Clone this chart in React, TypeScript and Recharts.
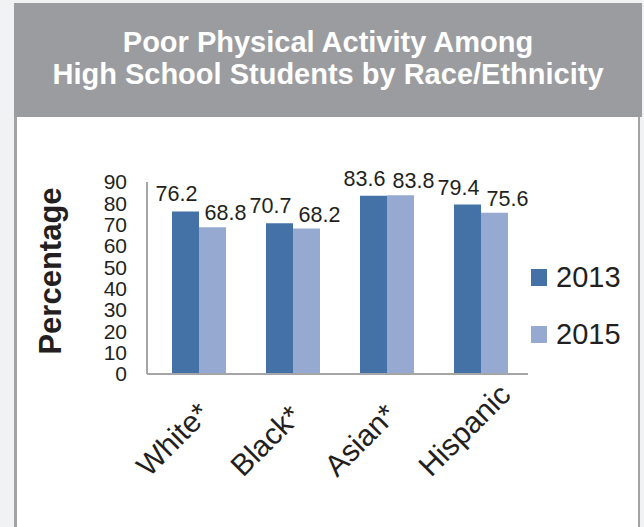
import React from 'react';
import { BarChart, Bar, XAxis, YAxis, LabelList, Legend, Label } from 'recharts';

const groups = ['White*', 'Black*', 'Asian*', 'Hispanic'];
const values2013 = [76.2, 70.7, 83.6, 79.4];
const values2015 = [68.8, 68.2, 83.8, 75.6];
const yTicks = [0, 10, 20, 30, 40, 50, 60, 70, 80, 90];
const seriesNames = ['2013', '2015'];
const seriesColors = ['#4572a6', '#95a9d1'];

const data = groups.map((g, i) => ({ group: g, s2013: values2013[i], s2015: values2015[i] }));

const FONT = '"Liberation Sans", Arial, Helvetica, sans-serif';
const INK = '#231f20';

// value labels sit a little off-centre like the original
const valueLabel = (dx: number, gap: number) => (props: any) => {
  const { x, y, width, value } = props;
  return (
    <text x={x + width / 2 + dx} y={y - gap} textAnchor="middle" fontSize={21.5} fill={INK} fontFamily={FONT}>
      {value}
    </text>
  );
};

const GroupTick = (props: any) => {
  const { x, y, payload } = props;
  const ax = x - 50;
  const ay = y + 96;
  return (
    <text x={ax} y={ay} transform={`rotate(-45 ${ax} ${ay})`} textAnchor="start" fontSize={30} fill={INK} fontFamily={FONT}>
      {payload.value}
    </text>
  );
};

const YTitle = (props: any) => {
  const { viewBox } = props;
  const cx = viewBox.x - 37;
  const cy = viewBox.y + viewBox.height / 2 - 7;
  return (
    <text x={cx} y={cy} transform={`rotate(-90 ${cx} ${cy})`} dy="0.36em" textAnchor="middle" fontSize={31} fontWeight="bold" fill={INK} fontFamily={FONT}>
      Percentage
    </text>
  );
};

const renderLegend = () => (
  <div style={{ fontFamily: FONT }}>
    {seriesNames.map((name, i) => (
      <div key={name} style={{ height: 57, display: 'flex', alignItems: 'center' }}>
        <span style={{ width: 16, height: 17, background: seriesColors[i], marginRight: 9, display: 'inline-block' }} />
        <span style={{ fontSize: 29, color: INK }}>{name}</span>
      </div>
    ))}
  </div>
);

export default function App() {
  return (
    <div style={{ position: 'fixed', left: 0, top: 0, width: 644, height: 527, background: '#f1f2f4', overflow: 'hidden' }}>
      <div
        style={{
          position: 'absolute', left: 14, top: 3, width: 628, height: 114, background: '#9b9c9f',
          color: '#fff', fontFamily: FONT, fontWeight: 'bold', fontSize: 29, textAlign: 'center',
          lineHeight: '32px', paddingTop: 23, boxSizing: 'border-box',
        }}
      >
        <div>Poor Physical Activity Among</div>
        <div>High School Students by Race/Ethnicity</div>
      </div>
      <div
        style={{
          position: 'absolute', left: 14, top: 117, width: 626, height: 420, background: '#fff',
          borderLeft: '3px solid #a3a3a6', borderRight: '2px solid #a3a3a6', boxSizing: 'border-box',
        }}
      />
      <div style={{ position: 'absolute', left: 0, top: 0 }}>
        <BarChart width={644} height={527} data={data} margin={{ top: 182, right: 116, bottom: 53, left: 87 }} barGap={0} barSize={27}>
          <XAxis
            dataKey="group"
            height={100}
            padding={{ left: 5, right: 0 }}
            axisLine={{ stroke: '#a5a5a8', strokeWidth: 2 }}
            tickLine={false}
            tick={<GroupTick />}
            interval={0}
          />
          <YAxis
            width={60}
            domain={[0, 90]}
            ticks={yTicks}
            interval={0}
            axisLine={{ stroke: '#a5a5a8', strokeWidth: 2 }}
            tickLine={false}
            tickMargin={14}
            tick={{ fontSize: 21, fill: INK, fontFamily: FONT }}
          >
            <Label content={<YTitle />} />
          </YAxis>
          <Legend
            layout="vertical"
            verticalAlign="middle"
            align="center"
            wrapperStyle={{ top: 249, left: 531, width: 110 }}
            content={renderLegend}
          />
          <Bar dataKey="s2013" name={seriesNames[0]} fill={seriesColors[0]} isAnimationActive={false}>
            <LabelList dataKey="s2013" content={valueLabel(-9, 10)} />
          </Bar>
          <Bar dataKey="s2015" name={seriesNames[1]} fill={seriesColors[1]} isAnimationActive={false}>
            <LabelList dataKey="s2015" content={valueLabel(13, 7)} />
          </Bar>
        </BarChart>
      </div>
    </div>
  );
}
